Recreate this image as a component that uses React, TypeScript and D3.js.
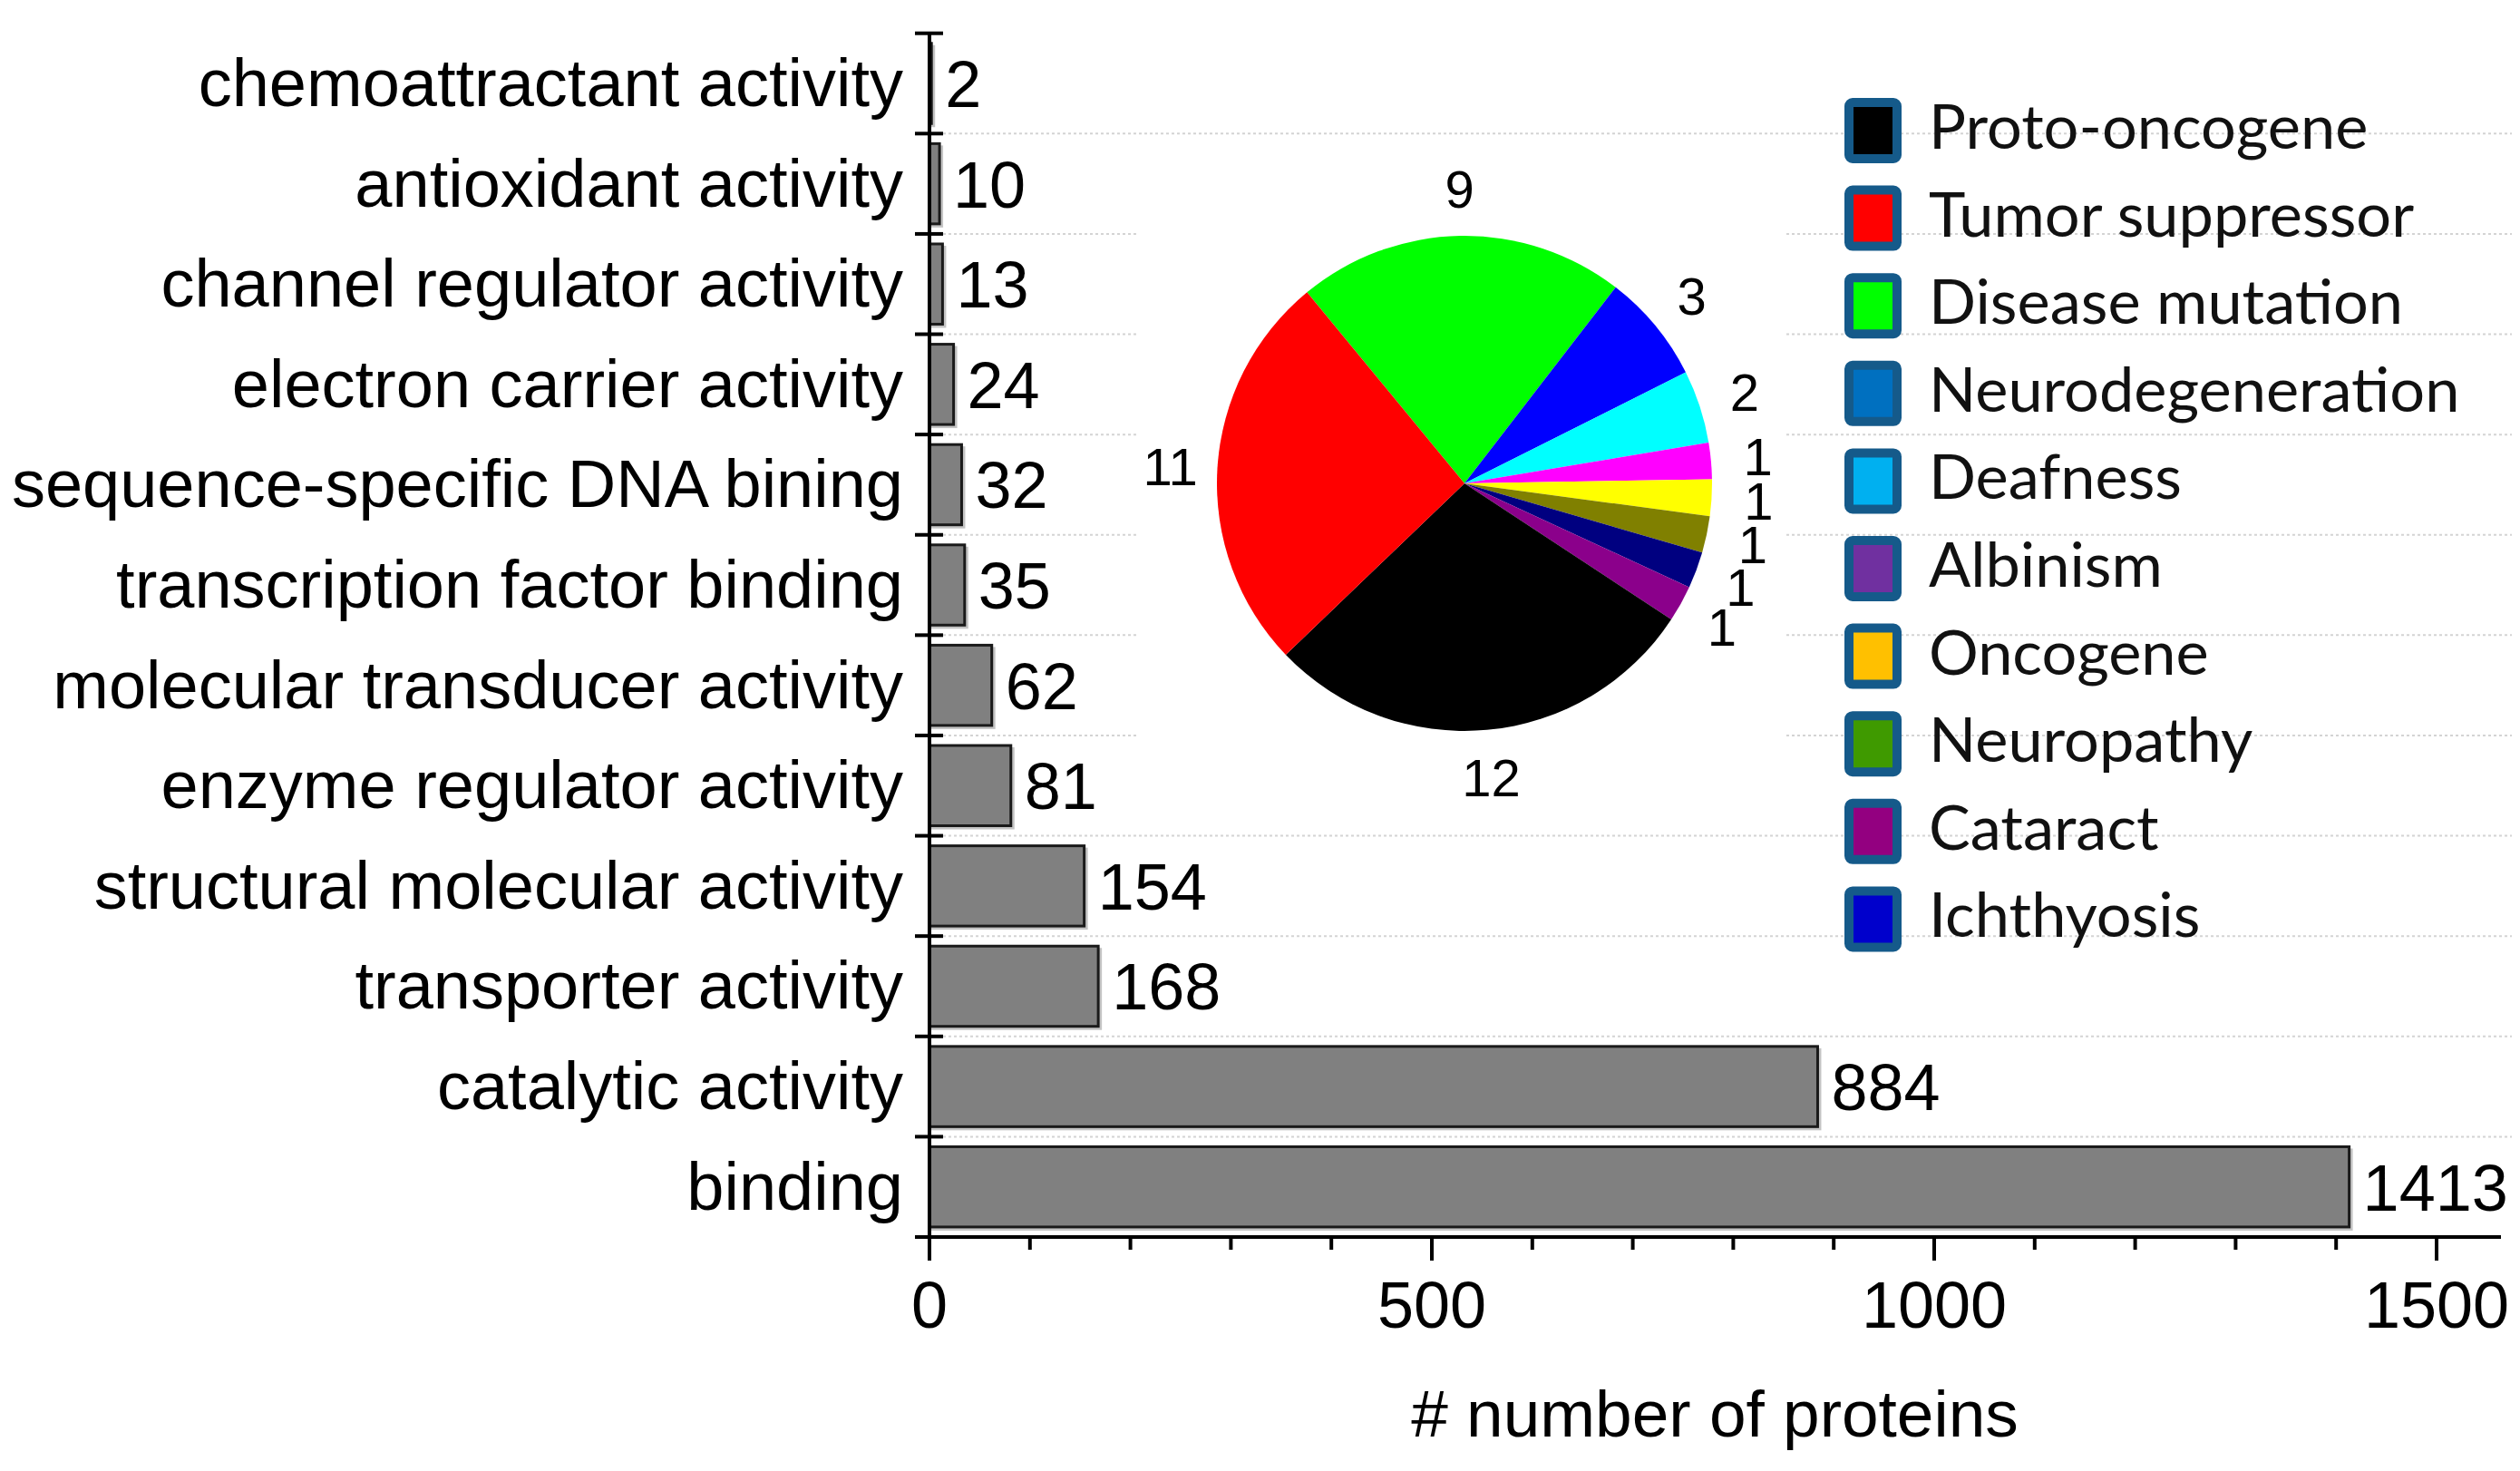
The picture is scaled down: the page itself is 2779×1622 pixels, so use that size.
import React from "react";
import * as d3 from "d3";

const categories = [
  "chemoattractant activity",
  "antioxidant activity",
  "channel regulator activity",
  "electron carrier activity",
  "sequence-specific DNA bining",
  "transcription factor binding",
  "molecular transducer activity",
  "enzyme regulator activity",
  "structural molecular activity",
  "transporter activity",
  "catalytic activity",
  "binding",
];
const counts = [2, 10, 13, 24, 32, 35, 62, 81, 154, 168, 884, 1413];
const xTickLabels = [0, 500, 1000, 1500];
const xTitle = "# number of proteins";

// pie slices, clockwise from the upper-left edge of the green slice
const pieValues = [9, 3, 2, 1, 1, 1, 1, 1, 12, 11];
const pieColors = ["#00ff00", "#0000ff", "#00ffff", "#ff00ff", "#ffff00", "#808000", "#000080", "#8b008b", "#000000", "#ff0000"];

const legendNames = [
  "Proto-oncogene",
  "Tumor suppressor",
  "Disease mutation",
  "Neurodegeneration",
  "Deafness",
  "Albinism",
  "Oncogene",
  "Neuropathy",
  "Cataract",
  "Ichthyosis",
];
const legendColors = ["#000000", "#ff0000", "#00ff00", "#0070c0", "#00b0f0", "#7030a0", "#ffc000", "#3f9a00", "#930080", "#0000cc"];

const W = 2779;
const H = 1622;
const ARIAL = "'Liberation Sans', Arial, Helvetica, sans-serif";
const LEG_FONT = "Lato, 'Open Sans', sans-serif";

export default function App() {
  const x = d3.scaleLinear().domain([0, 1500]).range([1025, 2687]);
  const top = 36.7;
  const bottom = 1364;
  const y = d3.scaleBand<string>().domain(categories).range([top, bottom]).paddingInner(0.2).paddingOuter(0.1);
  const step = y.step();
  const boundaries = d3.range(categories.length + 1).map((k) => top + k * step);
  const minorTicks = x.ticks(15);

  const cx = 1615;
  const cy = 533;
  const R = 273;
  const start = (-39.5 * Math.PI) / 180;
  const pie = d3.pie<number>().sort(null).value((d) => d).startAngle(start).endAngle(start + 2 * Math.PI);
  const arcs = pie(pieValues);
  const arc = d3.arc<d3.PieArcDatum<number>>().innerRadius(0).outerRadius(R);
  const labelArc = d3.arc<d3.PieArcDatum<number>>().innerRadius(R * 1.19).outerRadius(R * 1.19);

  const legX = 2034;
  const legY0 = 144;
  const legStep = 96.6;

  return (
    <svg width={W} height={H} viewBox={`0 0 ${W} ${H}`} style={{ position: "absolute", left: 0, top: 0, background: "#fff" }}>
      <rect x={0} y={0} width={W} height={H} fill="#fff" />
      {/* gridlines */}
      {boundaries.slice(1, -1).map((b, i) => (
        <line key={"g" + i} x1={1040} x2={2770} y1={b} y2={b} stroke="#d4d4d4" strokeWidth={2} strokeDasharray="3,3" />
      ))}
      {/* inset background */}
      <rect x={1253} y={175} width={714} height={695} fill="#fff" />

      {/* bars */}
      {categories.map((c, i) => (
        <g key={"b" + i}>
          <rect x={x(0) + 2} y={(y(c) as number) + 2} width={x(counts[i]) - x(0) + 2} height={y.bandwidth() + 2} fill="#c4c4c4" />
          <rect x={x(0)} y={y(c) as number} width={x(counts[i]) - x(0)} height={y.bandwidth()} fill="#808080" stroke="#1a1a1a" strokeWidth={3} />
          <text x={x(counts[i]) + 15} y={(y(c) as number) + y.bandwidth() / 2 + 26} fontFamily={ARIAL} fontSize={72} fill="#000">
            {counts[i]}
          </text>
          <text x={996} y={(y(c) as number) + y.bandwidth() / 2 + 25} textAnchor="end" fontFamily={ARIAL} fontSize={74} fill="#000">
            {c}
          </text>
        </g>
      ))}

      {/* y axis */}
      <line x1={x(0)} x2={x(0)} y1={top} y2={bottom + 26} stroke="#000" strokeWidth={4} />
      {boundaries.map((b, i) => (
        <line key={"yt" + i} x1={1009} x2={1040} y1={b} y2={b} stroke="#000" strokeWidth={4} />
      ))}
      {/* x axis */}
      <line x1={1009} x2={2758} y1={bottom} y2={bottom} stroke="#000" strokeWidth={4} />
      {minorTicks.map((t) => (
        <line key={"xt" + t} x1={x(t)} x2={x(t)} y1={bottom} y2={bottom + (t % 500 === 0 ? 26 : 14)} stroke="#000" strokeWidth={4} />
      ))}
      {xTickLabels.map((t) => (
        <text key={"xl" + t} x={x(t)} y={1464} textAnchor="middle" fontFamily={ARIAL} fontSize={72} fill="#000">
          {t}
        </text>
      ))}
      <text x={1891} y={1584} textAnchor="middle" fontFamily={ARIAL} fontSize={73} fill="#000">
        {xTitle}
      </text>

      {/* pie */}
      <g transform={`translate(${cx},${cy})`}>
        {arcs.map((a, i) => (
          <path key={"p" + i} d={arc(a) as string} fill={pieColors[i]} />
        ))}
        {arcs.map((a, i) => {
          const [lx, ly] = labelArc.centroid(a);
          return (
            <text key={"pl" + i} x={lx} y={ly + 21} textAnchor="middle" fontFamily={ARIAL} fontSize={58} fill="#000">
              {a.data}
            </text>
          );
        })}
      </g>

      {/* legend */}
      {legendNames.map((n, i) => {
        const cyL = legY0 + i * legStep;
        return (
          <g key={"l" + i}>
            <rect x={legX + 5} y={cyL - 31} width={53} height={62} rx={4} fill={legendColors[i]} stroke="#155a8a" strokeWidth={10} />
            <text x={2127} y={cyL + 20} fontFamily={LEG_FONT} fontSize={68.5} fill="#111">
              {n}
            </text>
          </g>
        );
      })}
    </svg>
  );
}
